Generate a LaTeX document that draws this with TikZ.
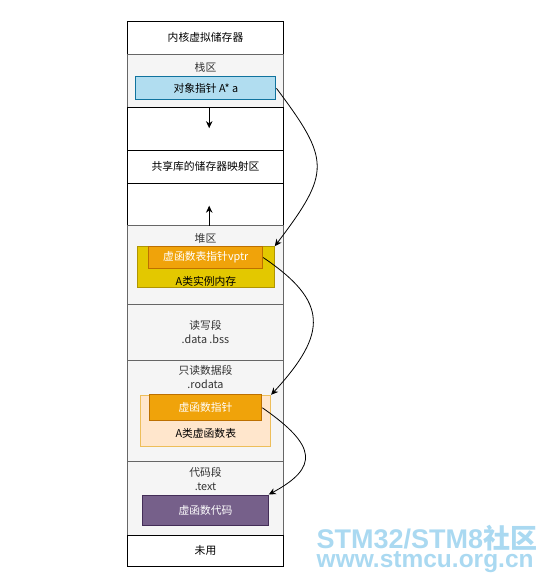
\documentclass[tikz,border=0pt]{standalone}
\usepackage{fontspec}
\setmainfont{Noto Sans CJK SC}
\newfontfamily\wmfont{Liberation Sans}
\usepackage{xcolor}
\usetikzlibrary{arrows.meta}
\usetikzlibrary{positioning}
\definecolor{greyfill}{HTML}{F5F5F5}
\definecolor{greyline}{HTML}{666666}
\definecolor{greytext}{HTML}{333333}
\definecolor{bluefill}{HTML}{B1DDF0}
\definecolor{blueline}{HTML}{10739E}
\definecolor{yellowfill}{HTML}{E3C800}
\definecolor{yellowline}{HTML}{B09500}
\definecolor{orangefill}{HTML}{F0A30A}
\definecolor{orangeline}{HTML}{BD7000}
\definecolor{peachfill}{HTML}{FFE6CC}
\definecolor{peachline}{HTML}{EDBE5A}
\definecolor{purplefill}{HTML}{76608A}
\definecolor{purpleline}{HTML}{432D57}
\definecolor{wmblue}{HTML}{AAD9F1}
\tikzset{
    tnode/.style = {align=center, inner sep=0pt, text centered, font=\fontsize{10.8}{14}\selectfont},
    white_row/.style = {tnode, rectangle, draw=black, fill=white, minimum width=156pt, outer sep=0pt, line width=1pt},
    grey_row/.style = {white_row, draw=greyline, fill=greyfill, text=greytext},
    blue_box/.style = {tnode, rectangle, draw=blueline, fill=bluefill, line width=1pt, minimum width=140.3pt, minimum height=23.3pt},
    yellow_box/.style = {tnode, rectangle, draw=yellowline, fill=yellowfill, line width=1pt},
    orange_box/.style = {tnode, rectangle, white, draw=orangeline, fill=orangefill, line width=1pt},
    peach_box/.style = {tnode, rectangle, draw=peachline, fill=peachfill, line width=1pt},
    purple_box/.style = {tnode, rectangle, white, draw=purpleline, fill=purplefill, line width=1pt},
    grow_arrow/.style = {->, line width=1pt},
    ptr_arrow/.style = {->, line width=0.8pt},
    watermark/.style = {inner sep=0pt, text=wmblue, align=left}
}
\begin{document}
\begin{tikzpicture}[>={Stealth[length=7pt,width=6.5pt,inset=2.2pt]}, x=1pt, y=-1pt]
    \useasboundingbox (0,0) rectangle (547,582);
    % segments, top to bottom
    \node [white_row, minimum height=32.3pt, anchor=north] (kernel) at (205.5,21.7) {内核虚拟储存器};
    \node [grey_row, minimum height=53.7pt, below=0pt of kernel] (stack) {};
    \node [white_row, minimum height=43pt, below=0pt of stack] (stack_gap) {};
    \node [white_row, minimum height=32.3pt, below=0pt of stack_gap] (shared) {共享库的储存器映射区};
    \node [white_row, minimum height=42.7pt, below=0pt of shared] (heap_gap) {};
    \node [grey_row, minimum height=78.8pt, below=0pt of heap_gap] (heap) {};
    \node [grey_row, minimum height=55.5pt, below=0pt of heap] (data) {读写段\\.data .bss};
    \node [grey_row, minimum height=101.7pt, below=0pt of data] (rodata) {};
    \node [grey_row, minimum height=74pt, below=0pt of rodata] (code_seg) {};
    \node [white_row, minimum height=30.3pt, below=0pt of code_seg] (unused) {未用};
    % stack
    \node [tnode, text=greytext] (stack_label) at ([yshift=-13pt]stack.north) {栈区};
    \node [blue_box] (obj_ptr) at ([xshift=0.3pt,yshift=-34.3pt]stack.north) {对象指针 A* a};
    % heap
    \node [tnode, text=greytext] (heap_label) at ([yshift=-12.3pt]heap.north) {堆区};
    \node [yellow_box, minimum width=136.6pt, minimum height=40.6pt] (inst) at ([xshift=0.5pt,yshift=-41.3pt]heap.north) {};
    \node [orange_box, minimum width=113.7pt, minimum height=21.6pt] (vptr) at ([xshift=0.3pt,yshift=-31.8pt]heap.north) {虚函数表指针vptr};
    \node [tnode] (inst_label) at ([yshift=6.3pt]inst.south) {A类实例内存};
    % read-only data
    \node [tnode, text=greytext] (rodata_label) at ([yshift=-16.5pt]rodata.north) {只读数据段\\.rodata};
    \node [peach_box, minimum width=129.7pt, minimum height=51.4pt] (vtable) at ([xshift=0.3pt,yshift=-61pt]rodata.north) {};
    \node [orange_box, minimum width=112.7pt, minimum height=25.7pt] (vfunc_ptr) at ([yshift=-47.8pt]rodata.north) {虚函数指针};
    \node [tnode] (vtable_label) at ([yshift=13.7pt]vtable.south) {A类虚函数表};
    % code
    \node [tnode, text=greytext] (code_label) at ([yshift=-17.3pt]code_seg.north) {代码段\\.text};
    \node [purple_box, minimum width=125.6pt, minimum height=30pt] (vfunc_code) at ([yshift=-48.3pt]code_seg.north) {虚函数代码};
    % growth arrows
    \coordinate (down_from) at ([xshift=3.7pt]stack_gap.north);
    \coordinate (down_to) at ([xshift=3.7pt,yshift=-20.5pt]stack_gap.north);
    \coordinate (up_from) at ([xshift=3.7pt]heap_gap.south);
    \coordinate (up_to) at ([xshift=3.7pt,yshift=20pt]heap_gap.south);
    \draw [grow_arrow] (down_from) -- (down_to);
    \draw [grow_arrow] (up_from) -- (up_to);
    % pointers
    \draw [ptr_arrow] (obj_ptr.east) .. controls +(54,72) and +(56,-74) .. (inst.north east);
    \draw [ptr_arrow] (vptr.east) .. controls +(65,44) and +(57,-62) .. (vtable.north east);
    \draw [ptr_arrow] (vfunc_ptr.east) .. controls +(55,38) and +(50,-27) .. (vfunc_code.north east);
    % watermark
    \node [watermark, anchor=base west, font=\bfseries\fontsize{27}{19}\selectfont] (wm) at (316.5,567)
        {{\wmfont STM32/STM8}社区\\{\wmfont\fontsize{24.5}{19}\selectfont www.stmcu.org.cn}};
\end{tikzpicture}
\end{document}
